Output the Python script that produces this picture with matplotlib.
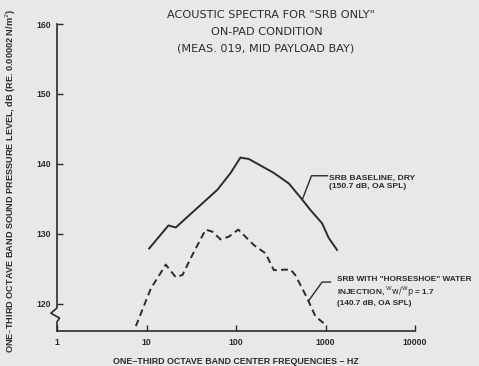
import matplotlib
matplotlib.use("Agg")
import matplotlib.pyplot as plt
import numpy as np

# SRB baseline, dry (solid)
base_freq = [10.7, 17.6, 21.2, 62, 87, 112, 139, 265, 389, 525, 679, 916, 1087, 1346]
base_db = [127.9, 131.2, 130.9, 136.3, 138.7, 140.9, 140.7, 138.7, 137.2, 135.2, 133.4, 131.5, 129.4, 127.7]

# SRB with horseshoe water injection (dashed)
water_freq = [7.6, 11.2, 14.4, 16.4, 21.2, 25.2, 32.6, 45.8, 54.5, 67.3, 83.4, 106, 158, 214, 265, 406, 460, 624, 771, 1000]
water_db = [116.8, 122.2, 124.4, 125.6, 123.8, 124.1, 127.0, 130.6, 130.3, 129.2, 129.6, 130.6, 128.4, 127.2, 124.8, 124.9, 124.1, 120.8, 118.2, 117.0]

x_ticks = [1, 10, 100, 1000, 10000]
y_ticks = [120, 130, 140, 150, 160]

paper = '#e8e8e6'
ink = '#2b2b2b'
plt.rcParams['font.family'] = ['Liberation Sans', 'DejaVu Sans']

fig = plt.figure(figsize=(4.79, 3.66), dpi=100, facecolor=paper)
ax = fig.add_axes([0.119, 0.0956, 0.7474, 0.8388])
ax.set_facecolor(paper)

ax.plot(base_freq, base_db, color=ink, lw=1.4)
ax.plot(water_freq, water_db, color=ink, lw=1.4, dashes=(3.5, 2.2))

ax.set_xscale('log')
ax.set_xlim(1, 10000)
ax.set_ylim(116.1, 160)
ax.set_xticks(x_ticks)
ax.set_xticklabels([str(t) for t in x_ticks])
ax.set_yticks(y_ticks)
ax.minorticks_off()
ax.tick_params(axis='both', direction='in', color=ink, labelcolor=ink,
               labelsize=6.2, width=1)
ax.tick_params(axis='x', length=4, pad=5)
ax.tick_params(axis='y', length=4, pad=4)
for lab in ax.get_xticklabels() + ax.get_yticklabels():
    lab.set_fontweight('bold')

for s in ['top', 'right', 'left']:
    ax.spines[s].set_visible(False)
ax.spines['bottom'].set_color(ink)
ax.spines['bottom'].set_linewidth(1.2)

# left axis with break mark
ax.plot([0, 0, -0.017, 0.007, 0, 0], [1, 0.075, 0.058, 0.042, 0.03, 0],
        transform=ax.transAxes, color=ink, lw=1.2, clip_on=False)

ax.set_xlabel('ONE\u2013THIRD OCTAVE BAND CENTER FREQUENCIES \u2013 HZ',
              fontsize=6.4, fontweight='bold', color=ink, labelpad=7)
fig.text(0.022, 0.505, 'ONE\u2013THIRD OCTAVE BAND SOUND PRESSURE LEVEL, dB (RE. 0.00002 N/m$^2$)',
         rotation=90, ha='center', va='center', fontsize=6.6, fontweight='bold', color=ink)

title_font = ['Liberation Sans Narrow', 'DejaVu Sans']
fig.text(0.565, 0.958, 'ACOUSTIC SPECTRA FOR "SRB ONLY"', ha='center', va='center',
         fontsize=8.1, color=ink, family=title_font)
fig.text(0.556, 0.912, 'ON-PAD CONDITION', ha='center', va='center',
         fontsize=8.1, color=ink, family=title_font)
fig.text(0.554, 0.867, '(MEAS. 019, MID PAYLOAD BAY)', ha='center', va='center',
         fontsize=8.1, color=ink, family=title_font)

# leader lines and notes
f1 = 550
d1 = np.interp(np.log10(f1), np.log10(base_freq), base_db)
ax.plot([f1, 697, 1050], [d1, 138.3, 138.3], color=ink, lw=1)
ax.text(1105, 138.4, 'SRB BASELINE, DRY\n(150.7 dB, OA SPL)', fontsize=6.1,
        fontweight='bold', color=ink, va='top', ha='left', linespacing=1.1)

f2 = 645
d2 = np.interp(np.log10(f2), np.log10(water_freq), water_db)
ax.plot([f2, 916, 1135], [d2, 123.1, 123.1], color=ink, lw=1)
ax.text(1358, 123.9, 'SRB WITH "HORSESHOE" WATER\nINJECTION, $^{\\mathsf{W}}\\mathsf{w}/^{\\mathsf{W}}\\mathsf{p}$ = 1.7\n(140.7 dB, OA SPL)',
        fontsize=5.95, fontweight='bold', color=ink, va='top', ha='left', linespacing=1.15)

fig.savefig('out.png', dpi=100, facecolor=paper)
